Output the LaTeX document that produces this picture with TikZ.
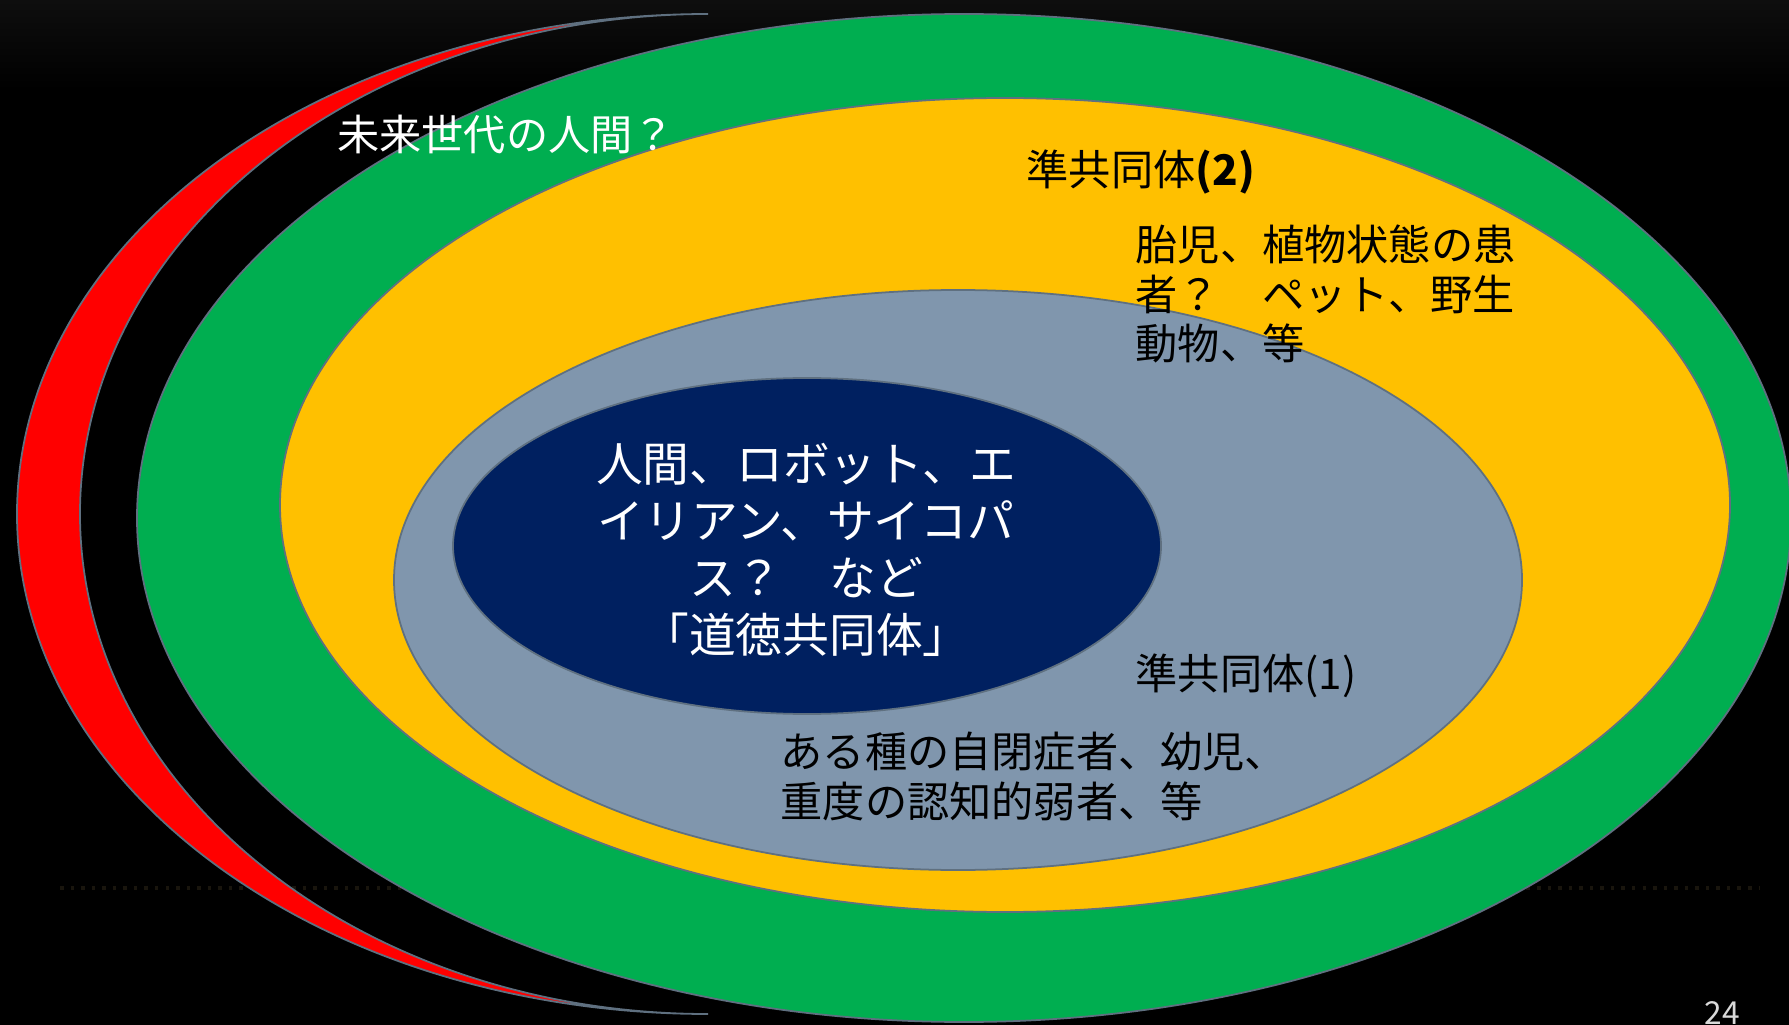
\documentclass[tikz,border=0pt]{standalone}
\usepackage{fontspec}
\setmainfont{Noto Sans CJK JP}
\usepackage{xcolor}
\usetikzlibrary{calc}
\definecolor{ringline}{HTML}{5F7080}
\definecolor{futurered}{HTML}{FF0000}
\definecolor{outergreen}{HTML}{00AE50}
\definecolor{quasiyellow}{HTML}{FFC000}
\definecolor{quasigray}{HTML}{8096AD}
\definecolor{moralnavy}{HTML}{002060}
\definecolor{topgray}{HTML}{0E0E0E}
\definecolor{floorgold}{HTML}{4A3E26}
\tikzset{
	ring/.style={draw=ringline, line width=0.5pt, fill=#1},
	blacktext/.style={text=black, inner sep=0pt, font=\fontsize{12}{14.2}\selectfont},
	whitetext/.style={text=white, inner sep=0pt, font=\fontsize{12}{14.2}\selectfont}
}

\begin{document}
\begin{tikzpicture}[x=0.01cm, y=0.01cm]
		% Page and dark background
		\useasboundingbox (0,0) rectangle (1789,-1025);
		\clip (0,0) rectangle (1789,-1025);
		\fill[black] (0,0) rectangle (1789,-1025);
		\shade[top color=topgray, bottom color=black] (0,0) rectangle (1789,-90);
		\draw[floorgold, line width=1pt, dotted, opacity=0.35] (60,-888) -- (1760,-888);

		% Future generations: red crescent
		\draw[ring=futurered] (708,-14)
			arc[start angle=90, end angle=270, x radius=691, y radius=500]
			arc[start angle=270, end angle=90, x radius=628, y radius=500] -- cycle;

		% Outer green ring
		\draw[ring=outergreen] (964,-518) ellipse (827 and 504);

		% Quasi community (2)
		\draw[ring=quasiyellow] (1005,-505) ellipse (725 and 407);

		% Quasi community (1)
		\draw[ring=quasigray] (958,-580) ellipse (564 and 290);

		% Moral community
		\draw[ring=moralnavy] (807,-546) ellipse (354 and 168);

		% Labels
		\node[whitetext] (future) at (506,-135) {未来世代の人間？};
		\node[blacktext, anchor=west] (quasitwo) at (1026,-172) {準共同体\textbf{(2)}};
		\node[blacktext, anchor=west, align=left] (quasitwoex) at (1135,-294)
			{胎児、植物状態の患\\者？　ペット、野生\\動物、等};
		\node[blacktext, anchor=west] (quasione) at (1135,-676) {準共同体(1)};
		\node[blacktext, anchor=west, align=left] (quasioneex) at (780,-776)
			{ある種の自閉症者、幼児、\\重度の認知的弱者、等};
		\node[whitetext, align=center, font=\fontsize{13.3}{16.2}\selectfont] (moral) at (806,-550)
			{人間、ロボット、エ\\イリアン、サイコパ\\ス？　など\\「道徳共同体」};

		% Page number
		\node[text=white!85!black, inner sep=0pt, font=\fontsize{9}{10}\selectfont] (pagenum) at (1722,-1013) {24};
	\end{tikzpicture}
\end{document}
